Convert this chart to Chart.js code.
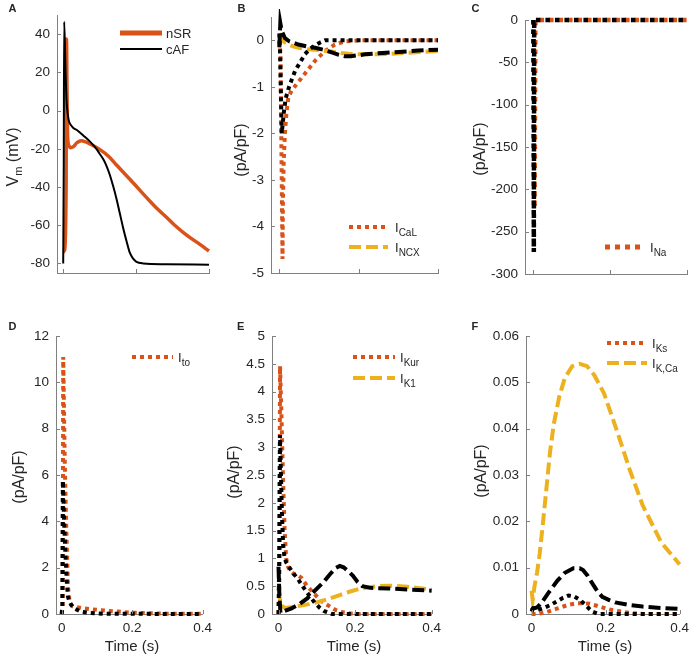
<!DOCTYPE html>
<html>
<head>
<meta charset="utf-8">
<script src="https://cdn.jsdelivr.net/npm/chart.js@4.4.1/dist/chart.umd.min.js"></script>
<style>
body { margin: 0; background: #fff; }
#fig { position: relative; width: 697px; height: 658px; overflow: hidden;
       font-family: "Liberation Sans", Arial, sans-serif; color: #262626; }
.pane { position: absolute; }
.txt { position: absolute; white-space: nowrap; line-height: 1; }
.letter { font-weight: bold; font-size: 11px; }
.ytitle { font-size: 16px; transform: translate(-50%, -50%) rotate(-90deg); }
.xtitle { font-size: 15px; transform: translate(-50%, -50%); }
.leg { font-size: 13px; transform: translateY(-50%); }
sub { font-size: 10px; vertical-align: -4px; line-height: 0; }
.ytitle sub { font-size: 11px; }
svg.sample { position: absolute; overflow: visible; }
</style>
</head>
<body>
<div id="fig"></div>
<script>
// === DATA ===
// A: membrane potential (mV)
const vmNsrT = [0, 0.004, 0.008, 0.009, 0.0105, 0.012, 0.016, 0.02, 0.027, 0.038, 0.05, 0.062, 0.075, 0.1, 0.125, 0.147, 0.17, 0.193, 0.215, 0.238, 0.261, 0.284, 0.306, 0.329, 0.352, 0.375, 0.4];
const vmNsrV = [-74, -73, -40, 37.5, 10, -13, -18.5, -19.4, -19, -16.8, -15.8, -16.4, -17.6, -20.3, -24, -28.6, -33.3, -38, -42.7, -47.4, -51.9, -56, -60, -63.7, -67, -70, -73.5];
const vmCafT = [0, 0.0015, 0.0027, 0.0064, 0.009, 0.0137, 0.023, 0.04, 0.055, 0.075, 0.091, 0.1, 0.11, 0.119, 0.128, 0.137, 0.146, 0.155, 0.164, 0.174, 0.183, 0.192, 0.201, 0.22, 0.283, 0.4];
const vmCafV = [-80, -30, 46.5, 21, 6, -3.5, -8, -10.5, -13, -16.5, -20, -22.6, -25.5, -29, -33.7, -39.5, -46, -53.5, -61, -68.5, -74.5, -77.5, -79.2, -80, -80.4, -80.7];

// B: I_CaL and I_NCX (pA/pF)
const icalNsrT = [0, 0.003, 0.008, 0.009, 0.011, 0.014, 0.018, 0.023, 0.031, 0.04, 0.064, 0.09, 0.115, 0.14, 0.165, 0.2, 0.4];
const icalNsrV = [0, -0.3, -4.7, -3.5, -2.6, -2.0, -1.55, -1.21, -1.08, -0.98, -0.72, -0.44, -0.23, -0.09, -0.02, 0, 0];
const icalCafT = [0, 0.002, 0.006, 0.009, 0.012, 0.016, 0.023, 0.031, 0.04, 0.052, 0.064, 0.078, 0.09, 0.102, 0.115, 0.4];
const icalCafV = [0.15, -0.3, -2.0, -1.75, -1.5, -1.25, -1.04, -0.85, -0.65, -0.48, -0.3, -0.18, -0.11, -0.05, 0, 0];
const incxNsrT = [0, 0.005, 0.012, 0.023, 0.035, 0.048, 0.07, 0.09, 0.11, 0.132, 0.155, 0.175, 0.2, 0.24, 0.28, 0.32, 0.36, 0.4];
const incxNsrV = [0.15, 0.05, -0.03, -0.09, -0.13, -0.16, -0.19, -0.2, -0.22, -0.24, -0.27, -0.29, -0.3, -0.3, -0.29, -0.27, -0.25, -0.23];
const incxCafT = [0, 0.0025, 0.006, 0.014, 0.025, 0.048, 0.07, 0.09, 0.11, 0.132, 0.15, 0.165, 0.18, 0.2, 0.216, 0.26, 0.3, 0.35, 0.4];
const incxCafV = [-0.15, 0.37, 0.2, 0.05, -0.02, -0.09, -0.13, -0.16, -0.2, -0.26, -0.31, -0.34, -0.34, -0.32, -0.3, -0.27, -0.25, -0.22, -0.2];

// C: I_Na
const inaNsrT = [0, 0.003, 0.005, 0.4];
const inaNsrV = [0, -222, 0, 0];
const inaCafT = [0, 0.001, 0.002, 0.4];
const inaCafV = [0, -274, 0, 0];

// D: I_to
const itoNsrT = [0, 0.003, 0.0045, 0.009, 0.013, 0.018, 0.022, 0.027, 0.032, 0.06, 0.1, 0.15, 0.2, 0.25, 0.3, 0.4];
const itoNsrV = [0, 0.3, 11.1, 6.4, 3.8, 1.16, 0.6, 0.4, 0.33, 0.25, 0.18, 0.11, 0.06, 0.03, 0.015, 0.005];
const itoCafT = [0, 0.002, 0.0035, 0.007, 0.011, 0.015, 0.018, 0.022, 0.027, 0.035, 0.055, 0.08, 0.12, 0.4];
const itoCafV = [0, 0.3, 5.75, 4, 2.5, 1.3, 0.75, 0.55, 0.4, 0.25, 0.1, 0.05, 0.01, 0];

// E: I_Kur and I_K1
const ikurNsrT = [0, 0.002, 0.004, 0.008, 0.012, 0.016, 0.02, 0.025, 0.03, 0.04, 0.05, 0.06, 0.075, 0.093, 0.11, 0.135, 0.15, 0.168, 0.2, 0.4];
const ikurNsrV = [0, 0.5, 4.46, 3.5, 2.4, 1.5, 1.0, 0.85, 0.78, 0.72, 0.7, 0.65, 0.5, 0.37, 0.24, 0.13, 0.07, 0.03, 0, 0];
const ikurCafT = [0, 0.002, 0.004, 0.006, 0.009, 0.012, 0.016, 0.02, 0.03, 0.04, 0.05, 0.06, 0.07, 0.083, 0.095, 0.108, 0.12, 0.14, 0.4];
const ikurCafV = [0, 1.0, 3.22, 2.6, 1.8, 1.25, 1.0, 0.93, 0.82, 0.72, 0.64, 0.53, 0.43, 0.31, 0.2, 0.11, 0.05, 0, 0];
const ik1NsrT = [0, 0.003, 0.008, 0.017, 0.04, 0.067, 0.1, 0.135, 0.16, 0.185, 0.21, 0.236, 0.26, 0.286, 0.31, 0.337, 0.37, 0.4];
const ik1NsrV = [0.45, 0.3, 0.15, 0.11, 0.13, 0.16, 0.21, 0.28, 0.34, 0.4, 0.45, 0.48, 0.5, 0.51, 0.505, 0.49, 0.465, 0.44];
const ik1CafT = [0, 0.002, 0.005, 0.015, 0.034, 0.055, 0.075, 0.095, 0.117, 0.135, 0.15, 0.16, 0.17, 0.182, 0.194, 0.206, 0.219, 0.24, 0.286, 0.34, 0.4];
const ik1CafV = [0.85, 0.4, 0.02, 0.05, 0.1, 0.18, 0.28, 0.42, 0.57, 0.72, 0.83, 0.866, 0.84, 0.77, 0.69, 0.58, 0.5, 0.47, 0.46, 0.44, 0.42];

// F: I_Ks and I_K,Ca
const iksNsrT = [0, 0.017, 0.04, 0.07, 0.1, 0.122, 0.14, 0.157, 0.18, 0.2, 0.22, 0.244, 0.27, 0.3, 0.4];
const iksNsrV = [0, 0, 0.0004, 0.0012, 0.002, 0.0023, 0.0023, 0.0022, 0.0017, 0.0012, 0.0008, 0.0005, 0.0002, 0, 0];
const iksCafT = [0, 0.004, 0.015, 0.03, 0.05, 0.07, 0.085, 0.1, 0.115, 0.13, 0.145, 0.155, 0.165, 0.18, 0.4];
const iksCafV = [0.0008, 0.0012, 0.0008, 0.0012, 0.0019, 0.0028, 0.0035, 0.004, 0.0038, 0.0031, 0.002, 0.0012, 0.0005, 0, 0];
const ikcaNsrT = [0, 0.003, 0.008, 0.015, 0.022, 0.03, 0.04, 0.05, 0.06, 0.075, 0.09, 0.11, 0.13, 0.15, 0.17, 0.196, 0.23, 0.265, 0.3, 0.35, 0.4];
const ikcaNsrV = [0.005, 0.003, 0.006, 0.009, 0.013, 0.019, 0.027, 0.035, 0.041, 0.047, 0.051, 0.0535, 0.054, 0.0535, 0.0515, 0.0476, 0.0397, 0.0312, 0.0235, 0.0155, 0.0107];
const ikcaCafT = [0, 0.004, 0.015, 0.026, 0.045, 0.07, 0.09, 0.113, 0.13, 0.139, 0.152, 0.165, 0.178, 0.191, 0.21, 0.226, 0.26, 0.3, 0.35, 0.4];
const ikcaCafV = [0.0005, 0.0012, 0.0014, 0.0023, 0.0045, 0.0072, 0.0089, 0.0099, 0.0099, 0.0095, 0.0082, 0.0065, 0.0049, 0.0037, 0.003, 0.0025, 0.002, 0.0016, 0.0013, 0.0011];

// tick labels
const timeTicks = [0, 0.2, 0.4];
const vmTicks = [-80, -60, -40, -20, 0, 20, 40];
const bTicks = [-5, -4, -3, -2, -1, 0];
const cTicks = [-300, -250, -200, -150, -100, -50, 0];
const dTicks = [0, 2, 4, 6, 8, 10, 12];
const eTicks = [0, 0.5, 1, 1.5, 2, 2.5, 3, 3.5, 4, 4.5, 5];
const fTicks = [0, 0.01, 0.02, 0.03, 0.04, 0.05, 0.06];

// === STYLE ===
const ORANGE = "#D95319";
const YELLOW = "#EDB120";
const BLACK = "#000000";
const AXIS = "#808080";
const TXT = "#262626";
const FONT = "'Liberation Sans', Arial, sans-serif";

const dotted = { borderDash: [4, 4], borderWidth: 4 };
const dottedC = { borderDash: [4.5, 5], borderWidth: 4.5 };
const dashed = { borderDash: [12, 5], borderWidth: 4 };

const fig = document.getElementById("fig");

function pts(t, v) {
    return t.map((x, i) => ({ x: x, y: v[i] }));
}

function series(t, v, color, style, extra) {
    return Object.assign({
        data: pts(t, v),
        borderColor: color,
        borderCapStyle: "butt",
        borderJoinStyle: "miter",
        pointRadius: 0,
        fill: false,
        tension: 0,
        clip: 8
    }, style, extra || {});
}

// inward tick marks, like the original
const tickMarks = {
    id: "tickMarks",
    afterDraw(chart) {
        const ctx = chart.ctx, a = chart.chartArea;
        const xs = chart.scales.x, ys = chart.scales.y;
        ctx.save();
        ctx.strokeStyle = AXIS;
        ctx.lineWidth = 1;
        ctx.beginPath();
        xs.ticks.forEach(t => {
            const x = Math.round(xs.getPixelForValue(t.value)) + 0.5;
            ctx.moveTo(x, a.bottom);
            ctx.lineTo(x, a.bottom - 4);
        });
        ys.ticks.forEach(t => {
            const y = Math.round(ys.getPixelForValue(t.value)) + 0.5;
            ctx.moveTo(a.left, y);
            ctx.lineTo(a.left + 4, y);
        });
        ctx.stroke();
        ctx.restore();
    }
};

// === PANEL BUILDER ===
function panel(box, xr, yr, yTicks, showX, datasets) {
    const W = box.r - box.l + 60, H = box.b - box.t + 38;
    const div = document.createElement("div");
    div.className = "pane";
    div.style.left = (box.l - 50) + "px";
    div.style.top = (box.t - 10) + "px";
    const cv = document.createElement("canvas");
    cv.width = W; cv.height = H;
    cv.style.width = W + "px"; cv.style.height = H + "px";
    div.appendChild(cv);
    fig.appendChild(div);

    new Chart(cv.getContext("2d"), {
        type: "line",
        data: { datasets: datasets },
        options: {
            responsive: false,
            animation: false,
            events: [],
            layout: { padding: { left: 0, right: 10, top: 10, bottom: 0 } },
            plugins: { legend: { display: false }, tooltip: { enabled: false } },
            scales: {
                x: {
                    type: "linear", min: xr[0], max: xr[1],
                    afterBuildTicks: s => { s.ticks = timeTicks.map(v => ({ value: v })); },
                    afterFit: s => { s.height = 28; },
                    grid: { display: false, drawTicks: false },
                    border: { color: AXIS, width: 1 },
                    ticks: { display: showX, color: TXT, padding: 6, autoSkip: false, maxRotation: 0,
                             font: { family: FONT, size: 13.5 }, callback: v => String(v) }
                },
                y: {
                    type: "linear", min: yr[0], max: yr[1],
                    afterBuildTicks: s => { s.ticks = yTicks.map(v => ({ value: v })); },
                    afterFit: s => { s.width = 50; },
                    grid: { display: false, drawTicks: false },
                    border: { color: AXIS, width: 1 },
                    ticks: { color: TXT, padding: 7, autoSkip: false,
                             font: { family: FONT, size: 13.5 }, callback: v => String(v) }
                }
            }
        },
        plugins: [tickMarks]
    });
}

function text(cls, x, y, html) {
    const d = document.createElement("div");
    d.className = "txt " + cls;
    d.style.left = x + "px";
    d.style.top = y + "px";
    d.innerHTML = html;
    fig.appendChild(d);
}

function legendLine(x1, x2, y, color, dash, width) {
    const ns = "http://www.w3.org/2000/svg";
    const svg = document.createElementNS(ns, "svg");
    svg.setAttribute("class", "sample");
    svg.setAttribute("width", x2 - x1);
    svg.setAttribute("height", 10);
    svg.style.left = x1 + "px";
    svg.style.top = (y - 5) + "px";
    const ln = document.createElementNS(ns, "line");
    ln.setAttribute("x1", 0); ln.setAttribute("x2", x2 - x1);
    ln.setAttribute("y1", 5); ln.setAttribute("y2", 5);
    ln.setAttribute("stroke", color);
    ln.setAttribute("stroke-width", width);
    if (dash) ln.setAttribute("stroke-dasharray", dash.join(" "));
    svg.appendChild(ln);
    fig.appendChild(svg);
}

// === A ===
panel({ l: 57, t: 10, r: 209, b: 273 }, [-0.017, 0.4], [-85, 50], vmTicks, false, [
    series(vmCafT, vmCafV, BLACK, { borderWidth: 2 }, { cubicInterpolationMode: "monotone" }),
    series(vmNsrT, vmNsrV, ORANGE, { borderWidth: 3.5 }, { cubicInterpolationMode: "monotone" })
]);
// === B ===
panel({ l: 271, t: 12, r: 438, b: 273 }, [-0.021, 0.4], [-5, 0.5], bTicks, false, [
    series(incxCafT, incxCafV, BLACK, dashed),
    series(icalCafT, icalCafV, BLACK, dotted),
    series(incxNsrT, incxNsrV, YELLOW, dashed),
    series(icalNsrT, icalNsrV, ORANGE, dotted)
]);
// === C ===
panel({ l: 525, t: 15, r: 687, b: 274 }, [-0.022, 0.4], [-300, 0], cTicks, false, [
    series(inaCafT, inaCafV, BLACK, dottedC),
    series(inaNsrT, inaNsrV, ORANGE, dottedC)
]);
// === D ===
panel({ l: 56, t: 331, r: 208, b: 614 }, [-0.016, 0.4], [0, 12], dTicks, true, [
    series(itoCafT, itoCafV, BLACK, dotted),
    series(itoNsrT, itoNsrV, ORANGE, dotted)
]);
// === E ===
panel({ l: 272, t: 331, r: 437, b: 614 }, [-0.017, 0.4], [0, 5], eTicks, true, [
    series(ik1CafT, ik1CafV, BLACK, dashed),
    series(ikurCafT, ikurCafV, BLACK, dotted),
    series(ik1NsrT, ik1NsrV, YELLOW, dashed),
    series(ikurNsrT, ikurNsrV, ORANGE, dotted)
]);
// === F ===
panel({ l: 526, t: 331, r: 685, b: 614 }, [-0.015, 0.4], [0, 0.06], fTicks, true, [
    series(ikcaCafT, ikcaCafV, BLACK, dashed),
    series(iksCafT, iksCafV, BLACK, dotted),
    series(ikcaNsrT, ikcaNsrV, YELLOW, dashed),
    series(iksNsrT, iksNsrV, ORANGE, dotted)
]);

// === LABELS ===
text("letter", 8.5, 2.5, "A");
text("letter", 237.5, 2.5, "B");
text("letter", 471.5, 2.5, "C");
text("letter", 8.5, 320.5, "D");
text("letter", 237, 320.5, "E");
text("letter", 471.5, 320.5, "F");

text("ytitle", 13, 157, "V<sub>m</sub> (mV)");
text("ytitle", 241, 150, "(pA/pF)");
text("ytitle", 480, 149, "(pA/pF)");
text("ytitle", 19, 477, "(pA/pF)");
text("ytitle", 234, 472, "(pA/pF)");
text("ytitle", 481, 471, "(pA/pF)");

text("xtitle", 132, 645, "Time (s)");
text("xtitle", 354, 645, "Time (s)");
text("xtitle", 605, 645, "Time (s)");

// === LEGENDS ===
legendLine(120, 162, 33, ORANGE, null, 5);
text("leg", 166, 33, "nSR");
legendLine(120, 162, 49, BLACK, null, 2);
text("leg", 166, 49, "cAF");

legendLine(349, 388, 227, ORANGE, [4, 4], 4);
text("leg", 395, 227, "I<sub>CaL</sub>");
legendLine(349, 388, 247, YELLOW, [12, 5], 4);
text("leg", 395, 247, "I<sub>NCX</sub>");

legendLine(605, 642, 247, ORANGE, [5, 5], 5);
text("leg", 650, 247, "I<sub>Na</sub>");

legendLine(132, 173, 357, ORANGE, [4, 4], 4);
text("leg", 178, 357, "I<sub>to</sub>");

legendLine(353, 395, 357, ORANGE, [4, 4], 4);
text("leg", 400, 357, "I<sub>Kur</sub>");
legendLine(353, 395, 378, YELLOW, [12, 5], 4);
text("leg", 400, 378, "I<sub>K1</sub>");

legendLine(607, 647, 343, ORANGE, [4, 4], 4);
text("leg", 652, 343, "I<sub>Ks</sub>");
legendLine(607, 647, 363, YELLOW, [12, 5], 4);
text("leg", 652, 363, "I<sub>K,Ca</sub>");
</script>
</body>
</html>
